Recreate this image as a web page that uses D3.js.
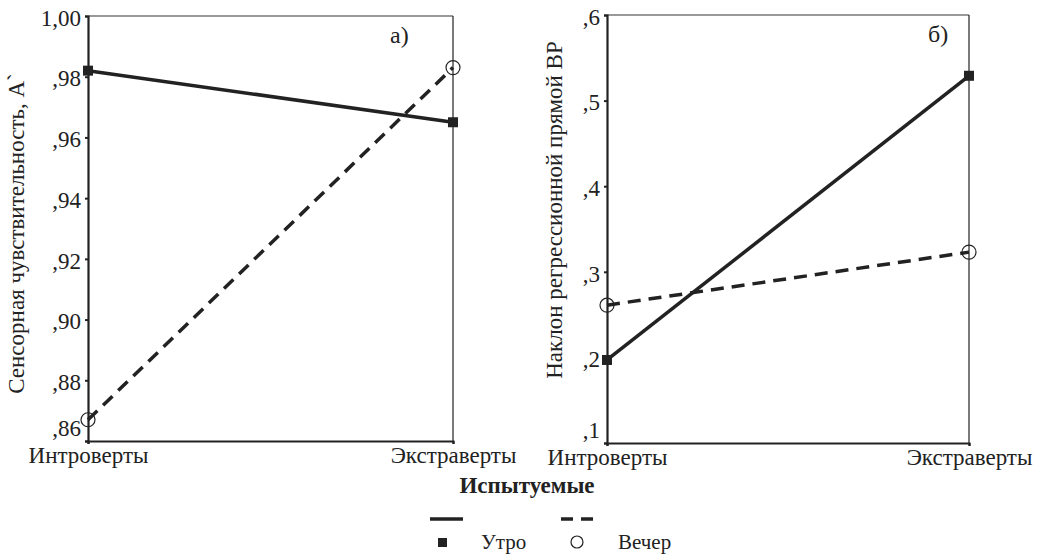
<!DOCTYPE html>
<html>
<head>
<meta charset="utf-8">
<script src="https://cdn.jsdelivr.net/npm/d3@7"></script>
<style>
  body { margin: 0; background: #fff; }
  svg text { font-family: "Liberation Serif", "Times New Roman", serif !important; fill: #222; }
</style>
</head>
<body>
<div id="chart"></div>
<script>
// groups on the x axis
const groups = ['Интроверты', 'Экстраверты']

// panel a) sensory sensitivity A`
const sensMorning = [0.982, 0.965]
const sensEvening = [0.867, 0.983]
const sensTicks = [0.86, 0.88, 0.90, 0.92, 0.94, 0.96, 0.98, 1.00]

// panel б) regression slope of RT
const slopeMorning = [0.197, 0.529]
const slopeEvening = [0.261, 0.323]
const slopeTicks = [0.1, 0.2, 0.3, 0.4, 0.5, 0.6]

const width = 1054
const height = 556

const svg = d3.select('#chart')
  .append('svg')
  .attr('width', width)
  .attr('height', height)

// SPSS style: ",98" instead of "0.98", but "1,00" stays
const fmtTick = (digits) => d => d3.format('.' + digits + 'f')(d).replace(/^0\./, ',').replace('.', ',')

// draws one panel
function drawPanel({ x0, x1, y0, y1, domain, ticks, digits, morning, evening, title, tag, tagX }) {
  const x = d3.scalePoint().domain(groups).range([x0, x1])
  const y = d3.scaleLinear().domain(domain).range([y1, y0])
  const g = svg.append('g')

  // frame: top gray, right thin
  g.append('line').attr('x1', x0).attr('x2', x1).attr('y1', y0).attr('y2', y0)
    .attr('stroke', '#777').attr('stroke-width', 1.5)
  g.append('line').attr('x1', x1).attr('x2', x1).attr('y1', y0).attr('y2', y1)
    .attr('stroke', '#222').attr('stroke-width', 1.2)

  // y axis
  const yAxis = g.append('g')
    .attr('transform', `translate(${x0},0)`)
    .call(d3.axisLeft(y).tickValues(ticks).tickFormat(fmtTick(digits)).tickSize(3).tickPadding(4))
  yAxis.select('.domain').attr('stroke', '#222').attr('stroke-width', 2.2)
  yAxis.selectAll('.tick line').attr('stroke', '#222').attr('stroke-width', 2)
  yAxis.selectAll('text').style('font-size', '23px').attr('fill', '#222')
    .attr('dy', (d, i) => i === 0 ? '-0.25em' : '0.4em')

  // x axis
  const xAxis = g.append('g')
    .attr('transform', `translate(0,${y1})`)
    .call(d3.axisBottom(x).tickSize(3).tickPadding(3))
  xAxis.select('.domain').attr('stroke', '#222').attr('stroke-width', 2)
  xAxis.selectAll('.tick line').attr('stroke', '#222').attr('stroke-width', 2)
  xAxis.selectAll('text').style('font-size', '23px').attr('fill', '#222')

  const line = d3.line().x((d, i) => x(groups[i])).y(d => y(d))

  g.append('path').datum(evening)
    .attr('d', line).attr('fill', 'none')
    .attr('stroke', '#222').attr('stroke-width', 3.5).attr('stroke-dasharray', '13,8')
  g.append('path').datum(morning)
    .attr('d', line).attr('fill', 'none')
    .attr('stroke', '#222').attr('stroke-width', 3.5)

  g.selectAll('.sq').data(morning).join('rect')
    .attr('x', (d, i) => x(groups[i]) - 5).attr('y', d => y(d) - 5)
    .attr('width', 10).attr('height', 10).attr('fill', '#222')
  g.selectAll('.ci').data(evening).join('circle')
    .attr('cx', (d, i) => x(groups[i])).attr('cy', d => y(d)).attr('r', 7)
    .attr('fill', 'none').attr('stroke', '#222').attr('stroke-width', 1.2)

  // y title
  g.append('text')
    .attr('transform', `translate(${title.x},${(y0 + y1) / 2 + title.dy}) rotate(-90)`)
    .attr('text-anchor', 'middle')
    .style('font-size', '23px')
    .text(title.text)

  // panel tag
  g.append('text').attr('x', tagX).attr('y', y0 + 27)
    .style('font-size', '24px').text(tag)
}

drawPanel({
  x0: 88, x1: 453, y0: 16, y1: 441,
  domain: [0.86, 1.00], ticks: sensTicks, digits: 2,
  morning: sensMorning, evening: sensEvening,
  title: { x: 24, dy: 5, text: 'Сенсорная чувствительность, А`' },
  tag: 'а)', tagX: 390
})

drawPanel({
  x0: 607, x1: 969, y0: 15, y1: 443,
  domain: [0.1, 0.6], ticks: slopeTicks, digits: 1,
  morning: slopeMorning, evening: slopeEvening,
  title: { x: 562, dy: -19, text: 'Наклон регрессионной прямой ВР' },
  tag: 'б)', tagX: 928
})

// shared x title
svg.append('text').attr('x', 527).attr('y', 493)
  .attr('text-anchor', 'middle')
  .style('font-size', '23px').style('font-weight', 'bold')
  .text('Испытуемые')

// legend
const legend = svg.append('g')
legend.append('line').attr('x1', 430).attr('x2', 463).attr('y1', 519).attr('y2', 519)
  .attr('stroke', '#222').attr('stroke-width', 3.5)
legend.append('rect').attr('x', 438).attr('y', 538).attr('width', 9).attr('height', 9).attr('fill', '#222')
legend.append('text').attr('x', 481).attr('y', 549).style('font-size', '21px').text('Утро')
legend.append('line').attr('x1', 561).attr('x2', 595).attr('y1', 519).attr('y2', 519)
  .attr('stroke', '#222').attr('stroke-width', 3.5).attr('stroke-dasharray', '12,8')
legend.append('circle').attr('cx', 577).attr('cy', 542).attr('r', 6)
  .attr('fill', 'none').attr('stroke', '#222').attr('stroke-width', 1.2)
legend.append('text').attr('x', 618).attr('y', 549).style('font-size', '21px').text('Вечер')
</script>
</body>
</html>
